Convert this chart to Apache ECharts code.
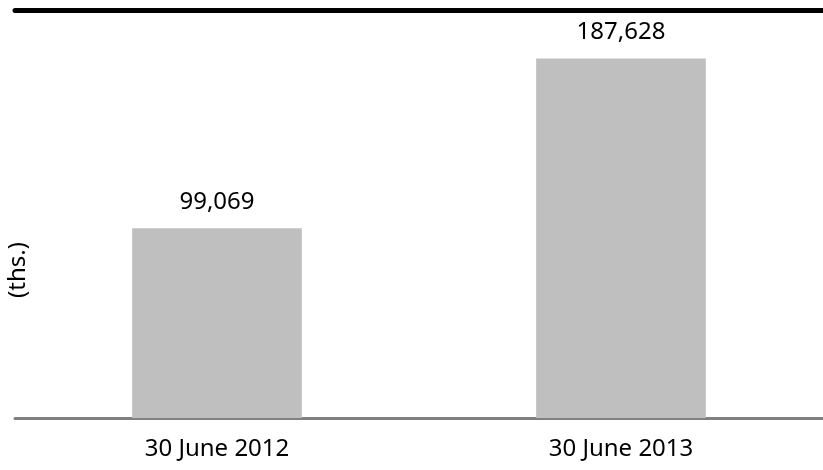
<!DOCTYPE html>
<html>
<head>
<meta charset="utf-8">
<script src="https://cdn.jsdelivr.net/npm/echarts@6/dist/echarts.min.js"></script>
<style>
  html, body { margin: 0; padding: 0; background: #fff; }
  #chart { width: 823px; height: 470px; }
</style>
</head>
<body>
<div id="chart"></div>
<script>
// Period-end values, in thousands
const categories = ['30 June 2012', '30 June 2013'];
const values = [99069, 187628];
const unitLabel = '(ths.)';

const FONT = 'Noto Sans';
const FONT_SIZE = 24;

const chart = echarts.init(document.getElementById('chart'));
chart.setOption({
  animation: false,
  textStyle: { fontFamily: FONT },
  grid: { left: 15, right: 0, top: 10, bottom: 52 },
  xAxis: [
    {
      type: 'category',
      data: categories,
      position: 'bottom',
      axisLine: { lineStyle: { color: '#808080', width: 3 } },
      axisTick: { show: false },
      axisLabel: { color: '#000', fontSize: FONT_SIZE, margin: 19, fontFamily: FONT }
    },
    {
      type: 'category',
      data: categories,
      position: 'top',
      axisLine: { lineStyle: { color: '#000', width: 5 } },
      axisTick: { show: false },
      axisLabel: { show: false }
    }
  ],
  yAxis: {
    type: 'value',
    min: 0,
    max: 213000,
    axisLine: { show: false },
    axisTick: { show: false },
    axisLabel: { show: false },
    splitLine: { show: false }
  },
  graphic: [{
    type: 'text',
    x: 18,
    y: 270,
    rotation: Math.PI / 2,
    style: {
      text: unitLabel,
      font: FONT_SIZE + 'px "' + FONT + '"',
      fill: '#000',
      align: 'center',
      verticalAlign: 'middle'
    }
  }],
  series: [{
    type: 'bar',
    data: values,
    barWidth: '42%',
    itemStyle: { color: '#BFBFBF' },
    label: {
      show: true,
      position: 'top',
      distance: 14,
      color: '#000',
      fontSize: FONT_SIZE,
      fontFamily: FONT,
      formatter: p => p.value.toLocaleString('en-US')
    }
  }]
});
</script>
</body>
</html>
